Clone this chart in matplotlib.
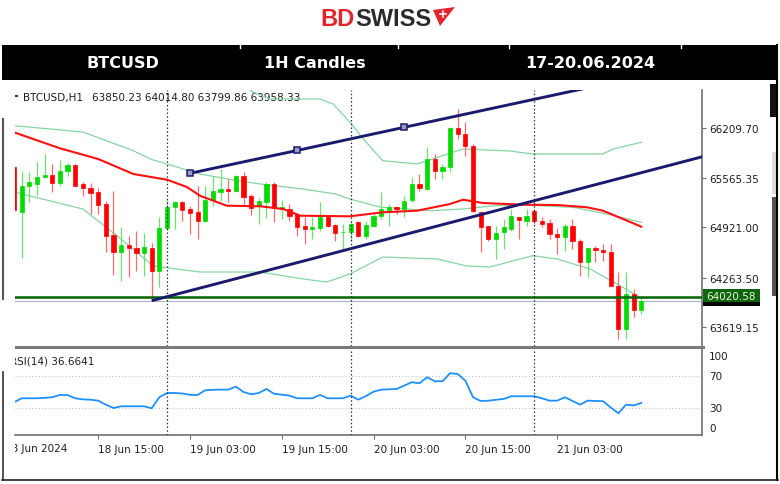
import matplotlib
matplotlib.use("Agg")
import matplotlib.pyplot as plt
from matplotlib.patches import Rectangle, Polygon
from matplotlib.lines import Line2D
from matplotlib.transforms import Bbox, blended_transform_factory
import numpy as np

W, H = 780, 485

# H1 candles, bar 0 = 18 Jun 04:00 ... bar 82 = 21 Jun 14:00
opens = [65700, 65124, 65462, 65484, 65579, 65605, 65493, 65657, 65735, 65484,
         65432, 65376, 65224, 64825, 64596, 64691, 64652, 64583, 64652, 64349,
         64908, 65181, 65246, 65159, 65116, 64999, 65276, 65384, 65419, 65397,
         65592, 65324, 65202, 65246, 65484, 65159, 65159, 65094, 64934, 64899,
         64908, 65051, 64951, 64856, 64856, 64986, 64804, 64934, 65072, 65150,
         65181, 65159, 65280, 65484, 65419, 65809, 65657, 65701, 66208, 66134,
         65982, 65116, 64934, 64769, 64856, 64899, 65051, 65007, 65137, 65007,
         64973, 64834, 64791, 64934, 64748, 64466, 64648, 64630, 64596, 64163,
         63599, 64054, 63850]
highs = [65720, 65649, 65636, 65766, 65874, 65744, 65800, 65757, 65740, 65506,
         65497, 65432, 65267, 65397, 64921, 64812, 64877, 64847, 64717, 65051,
         65280, 65267, 65267, 65202, 65462, 65462, 65592, 65679, 65549, 65601,
         65636, 65354, 65298, 65506, 65514, 65280, 65224, 65094, 65051, 65051,
         65246, 65072, 64964, 64964, 65007, 65007, 65007, 65094, 65384, 65224,
         65202, 65332, 65571, 65614, 65961, 65874, 65744, 66221, 66459, 66294,
         66004, 65137, 64942, 64942, 65029, 65159, 65059, 65159, 65159, 65051,
         65029, 64908, 64964, 65029, 64769, 64661, 64682, 64704, 64704, 64336,
         64336, 64119, 64015]
lows = [65120, 64522, 65246, 65332, 65558, 65376, 65462, 65592, 65455, 65324,
        65094, 65094, 64596, 64301, 64227, 64279, 64349, 64284, 63967, 64141,
        64890, 64899, 65007, 64834, 64769, 64986, 65202, 65267, 65246, 65376,
        65202, 65081, 64964, 65038, 64986, 65029, 65007, 64804, 64704, 64769,
        64877, 64921, 64747, 64639, 64747, 64791, 64769, 64921, 65029, 64942,
        65094, 65051, 65246, 65397, 65419, 65549, 65549, 65636, 66069, 65852,
        65124, 64596, 64747, 64509, 64639, 64877, 64769, 64934, 64964, 64921,
        64769, 64574, 64617, 64639, 64292, 64271, 64466, 64488, 64163, 63469,
        63469, 63751, 63800]
closes = [65140, 65462, 65514, 65579, 65605, 65493, 65657, 65735, 65462, 65428,
          65363, 65215, 64812, 64596, 64695, 64648, 64583, 64669, 64349, 64908,
          65181, 65246, 65150, 65107, 65007, 65276, 65389, 65419, 65393, 65592,
          65311, 65168, 65267, 65484, 65168, 65181, 65064, 64921, 64899, 64921,
          65051, 64942, 64847, 64864, 64964, 64804, 64951, 65064, 65159, 65181,
          65159, 65267, 65484, 65428, 65809, 65657, 65701, 66208, 66134, 65982,
          65137, 64921, 64769, 64847, 64930, 65064, 65020, 65064, 65007, 64964,
          64834, 64791, 64934, 64748, 64466, 64648, 64630, 64596, 64163, 63599,
          64054, 63850, 63958]

# red moving average
ma_x = [0, 6, 11, 15.6, 20, 22.6, 24.3, 27.8, 32.2, 35.2, 37.4, 43.9, 48.2, 52.7,
        57, 58.7, 61.3, 66.5, 71, 74.9, 77, 79.6, 82]
ma_y = [66156, 65948, 65809, 65614, 65540, 65445, 65332, 65202, 65194, 65159, 65072,
        65064, 65116, 65137, 65224, 65280, 65237, 65215, 65211, 65181, 65137, 65029, 64929]

# bollinger bands
bb_mid_x = [0, 9, 15.6, 17.8, 20, 24.3, 29.2, 32.2, 37.8, 42, 43.9, 47.8, 54.4, 58.7,
            62.9, 66.5, 73.1, 77.5, 82]
bb_mid_y = [66242, 66160, 65917, 65809, 65744, 65614, 65527, 65484, 65419, 65354, 65289,
            65185, 65137, 65159, 65202, 65211, 65181, 65094, 64986]
bb_up_x = [0, 20, 29, 31.2, 33.5, 40, 41.7, 43.9, 46, 48.2, 52.7, 58.7, 64.8, 67.8,
           73.1, 77, 78.3, 82]
bb_up_y = [67100, 67080, 66840, 66680, 66589, 66589, 66524, 66290, 66030, 65787, 65744,
           65939, 65913, 65874, 65874, 65874, 65939, 66026]
bb_lo_x = [0, 9, 13.5, 18.2, 24.3, 32.2, 37.8, 40.9, 43.9, 48.2, 55.3, 59.2, 62.2, 67.8,
           71, 75.3, 79.2, 82]
bb_lo_y = [65380, 65159, 64808, 64418, 64340, 64340, 64249, 64210, 64314, 64535, 64509,
           64418, 64405, 64552, 64509, 64379, 64162, 64000]

# channel lines
upper_x = [23, 37, 51, 75]
upper_y = [65623, 65920, 66221, 66735]
lower_x = [18, 90]
lower_y = [63967, 65839]

hline_price = 64020.58
bid_price = 63958.33

rsi = [37.4, 42.3, 42.3, 42.3, 42.8, 43.6, 46.4, 46.2, 42.3, 41.0,
       40.6, 39.4, 34.5, 30.4, 32.5, 32.5, 32.5, 32.5, 30.1, 43.6,
       48.8, 48.8, 48.2, 46.5, 46.4, 52.1, 52.7, 52.9, 52.9, 56.6,
       50.0, 47.2, 48.8, 53.7, 47.8, 46.8, 45.5, 42.3, 42.3, 42.3,
       46.4, 42.3, 42.3, 42.3, 45.5, 40.6, 45.0, 50.4, 52.9, 53.3,
       53.7, 57.8, 62.0, 60.7, 68.1, 63.2, 63.2, 73.0, 72.1, 63.9,
       43.6, 39.0, 39.3, 40.5, 41.5, 44.8, 44.8, 44.8, 44.8, 42.3,
       39.4, 39.4, 43.6, 39.0, 34.5, 39.4, 39.0, 38.7, 31.0, 23.9,
       34.5, 33.5, 36.66]

price_ticks = [66209.70, 65565.35, 64921.00, 64263.50, 63619.15]
time_ticks = [11, 23, 35, 47, 59, 71]
time_labels = ["18 Jun 15:00", "19 Jun 03:00", "19 Jun 15:00",
               "20 Jun 03:00", "20 Jun 15:00", "21 Jun 03:00"]
day_breaks = [20, 44, 68]

fig = plt.figure(figsize=(W / 100, H / 100), dpi=100)
fig.patch.set_facecolor('white')


def fx(x):
    return x / W


def fy(y):
    return 1 - y / H


def rect(x0, y0, x1, y1, **kw):
    fig.add_artist(Rectangle((fx(x0), fy(y1)), (x1 - x0) / W, (y1 - y0) / H,
                             transform=fig.transFigure, **kw))


def line(xs, ys, **kw):
    fig.add_artist(Line2D([fx(v) for v in xs], [fy(v) for v in ys],
                          transform=fig.transFigure, **kw))


# ---- logo and header bar
fig.text(fx(354.5), fy(20), 'BD', color='#e3262d', fontsize=17, fontweight='bold',
         family='Liberation Sans', ha='right', va='center')
fig.text(fx(355), fy(20), 'SWISS', color='#2a2a2a', fontsize=17, fontweight='bold',
         family='Liberation Sans', ha='left', va='center')
fig.add_artist(Polygon([(fx(433), fy(11)), (fx(455), fy(8)), (fx(440), fy(27))],
                       closed=True, transform=fig.transFigure, fc='#e3262d', ec='none'))
line([440, 446], [14.5, 14.5], color='white', lw=1.1)
line([443, 443], [11.5, 17.5], color='white', lw=1.1)

rect(2, 46, 778, 81, fc='black', ec='none')
for xn in [240, 398.5, 508.5, 681]:
    line([xn, xn], [46, 48.5], color='white', lw=1)
for xc, s in [(122.5, 'BTCUSD'), (314.5, '1H Candles'), (590, '17-20.06.2024')]:
    fig.text(fx(xc), fy(63.5), s, color='white', fontsize=11.5, fontweight='bold',
             ha='center', va='center')

# ---- price panel
ax = fig.add_axes([fx(15), fy(347), 687 / W, 256 / H])
ax.set_xlim(0.13, 89.93)
ax.set_ylim(63378, 66706)

idx = np.arange(len(opens))
o = np.array(opens)
c = np.array(closes)
up = c >= o
body_col = np.where(up, '#00dc00', '#ff0000')
wick_col = np.where(up, '#6ae46a', '#ff6a6a')
ax.vlines(idx, lows, highs, colors=wick_col, lw=0.9, zorder=3)
ax.bar(idx, np.abs(c - o), bottom=np.minimum(o, c), width=0.55, color=body_col,
       edgecolor=body_col, lw=0.5, zorder=4)

bb_col = '#86d4a4'
ax.plot(bb_up_x, bb_up_y, color=bb_col, lw=0.9, zorder=2)
ax.plot(bb_mid_x, bb_mid_y, color=bb_col, lw=0.9, zorder=2)
ax.plot(bb_lo_x, bb_lo_y, color=bb_col, lw=0.9, zorder=2)
ax.plot(ma_x, ma_y, color='#ff1010', lw=1.5, zorder=5)

ax.axhline(bid_price, color='#aab4c8', lw=0.8, zorder=2)
ax.axhline(hline_price, color='#006400', lw=1.8, zorder=6)

navy = '#1b1b6e'
ax.plot(lower_x, lower_y, color=navy, lw=2.1, zorder=6, solid_capstyle='butt')
ax.plot(upper_x, upper_y, color=navy, lw=2.1, zorder=6, solid_capstyle='butt')
ax.plot(upper_x[:3], upper_y[:3], ls='none', marker='s', ms=4.2, mfc='#9a9ac8',
        mec=navy, mew=1.1, zorder=7)

for d in day_breaks:
    ax.axvline(d, color='#303030', lw=0.9, ls=(0, (1.2, 1.8)), zorder=8)

for s in ['top', 'left', 'bottom']:
    ax.spines[s].set_visible(False)
ax.spines['right'].set_color('#707070')
ax.spines['right'].set_linewidth(1.2)
ax.yaxis.tick_right()
ax.set_yticks(price_ticks)
ax.set_yticklabels([f'{v:.2f}' for v in price_ticks])
ax.tick_params(axis='y', length=3, width=0.8, color='#707070', pad=2.5,
               labelsize=7.5, labelcolor='#1e1e1e')
ax.set_xticks([])

ax.text(fx(22.7), fy(98), 'BTCUSD,H1', transform=fig.transFigure, fontsize=7.5,
        color='#1e1e1e', va='center', zorder=1)
ax.text(fx(91.7), fy(98), '63850.23 64014.80 63799.86 63958.33', transform=fig.transFigure,
        fontsize=7.5, color='#1e1e1e', va='center', zorder=1)
rect(15.5, 95.5, 17.5, 97.5, fc='#303030', ec='none')

# price label boxes
rect(703, 296, 760, 307, fc='black', ec='none')
rect(703, 290, 760, 303, fc='#0b650b', ec='none')
fig.text(fx(706), fy(296.5), f'{hline_price:.2f}', color='#f2f2dc', fontsize=7.5,
         va='center')

# panel separator
rect(15, 346.5, 705, 349.5, fc='#7a7a7a', ec='none')

# ---- RSI panel
ax2 = fig.add_axes([fx(15), fy(436), 687 / W, 86 / H])
ax2.set_xlim(0.13, 89.93)
ax2.set_ylim(-2.7, 102.7)
ax2.plot(idx, rsi, color='#1e90ff', lw=1.3, zorder=4)
for lv in [70, 30]:
    ax2.axhline(lv, color='#c4c4c4', lw=0.8, ls=(0, (1, 2)), zorder=1)
for d in day_breaks:
    ax2.axvline(d, color='#303030', lw=0.9, ls=(0, (1.2, 1.8)), zorder=5)
for s in ['top', 'left']:
    ax2.spines[s].set_visible(False)
for s in ['right', 'bottom']:
    ax2.spines[s].set_color('#707070')
    ax2.spines[s].set_linewidth(1.2)
ax2.set_yticks([])
ax2.set_xticks(time_ticks)
ax2.set_xticklabels(time_labels, ha='left')
ax2.tick_params(axis='x', length=3, width=0.8, color='#707070', pad=3.5,
                labelsize=7.5, labelcolor='#1e1e1e')

tr = blended_transform_factory(fig.transFigure, ax2.transData)
ax2.text(fx(709), 100, '100', transform=tr, fontsize=7.5, color='#1e1e1e', va='top')
ax2.text(fx(709), 70, '70', transform=tr, fontsize=7.5, color='#1e1e1e', va='center')
ax2.text(fx(709), 30, '30', transform=tr, fontsize=7.5, color='#1e1e1e', va='center')
ax2.text(fx(709), 0, '0', transform=tr, fontsize=7.5, color='#1e1e1e', va='bottom')
ax2.text(fx(10), fy(361), 'RSI(14) 36.6641', transform=fig.transFigure, fontsize=7.5,
         color='#1e1e1e', va='center', clip_on=True)

first = fig.text(fx(4.6), fy(449.5), '18 Jun 2024', fontsize=7.5, color='#1e1e1e',
                 va='center')
first.set_clip_box(Bbox([[15, 0], [W, H]]))
first.set_clip_on(True)

# ---- outer frame remnants
line([777, 777], [46, 481], color='black', lw=1.5)
line([2, 778], [481, 481], color='#222222', lw=1.2)
line([3, 3], [120, 300], color='#555555', lw=1.5)
line([3, 3], [373, 481], color='#333333', lw=1.2)
rect(770, 85, 776, 118, fc='#111111', ec='none')
rect(772, 153, 776, 195, fc='#dddddd', ec='none')
rect(772, 198, 776, 297, fc='#555555', ec='none')

fig.savefig('out.png', dpi=100)
